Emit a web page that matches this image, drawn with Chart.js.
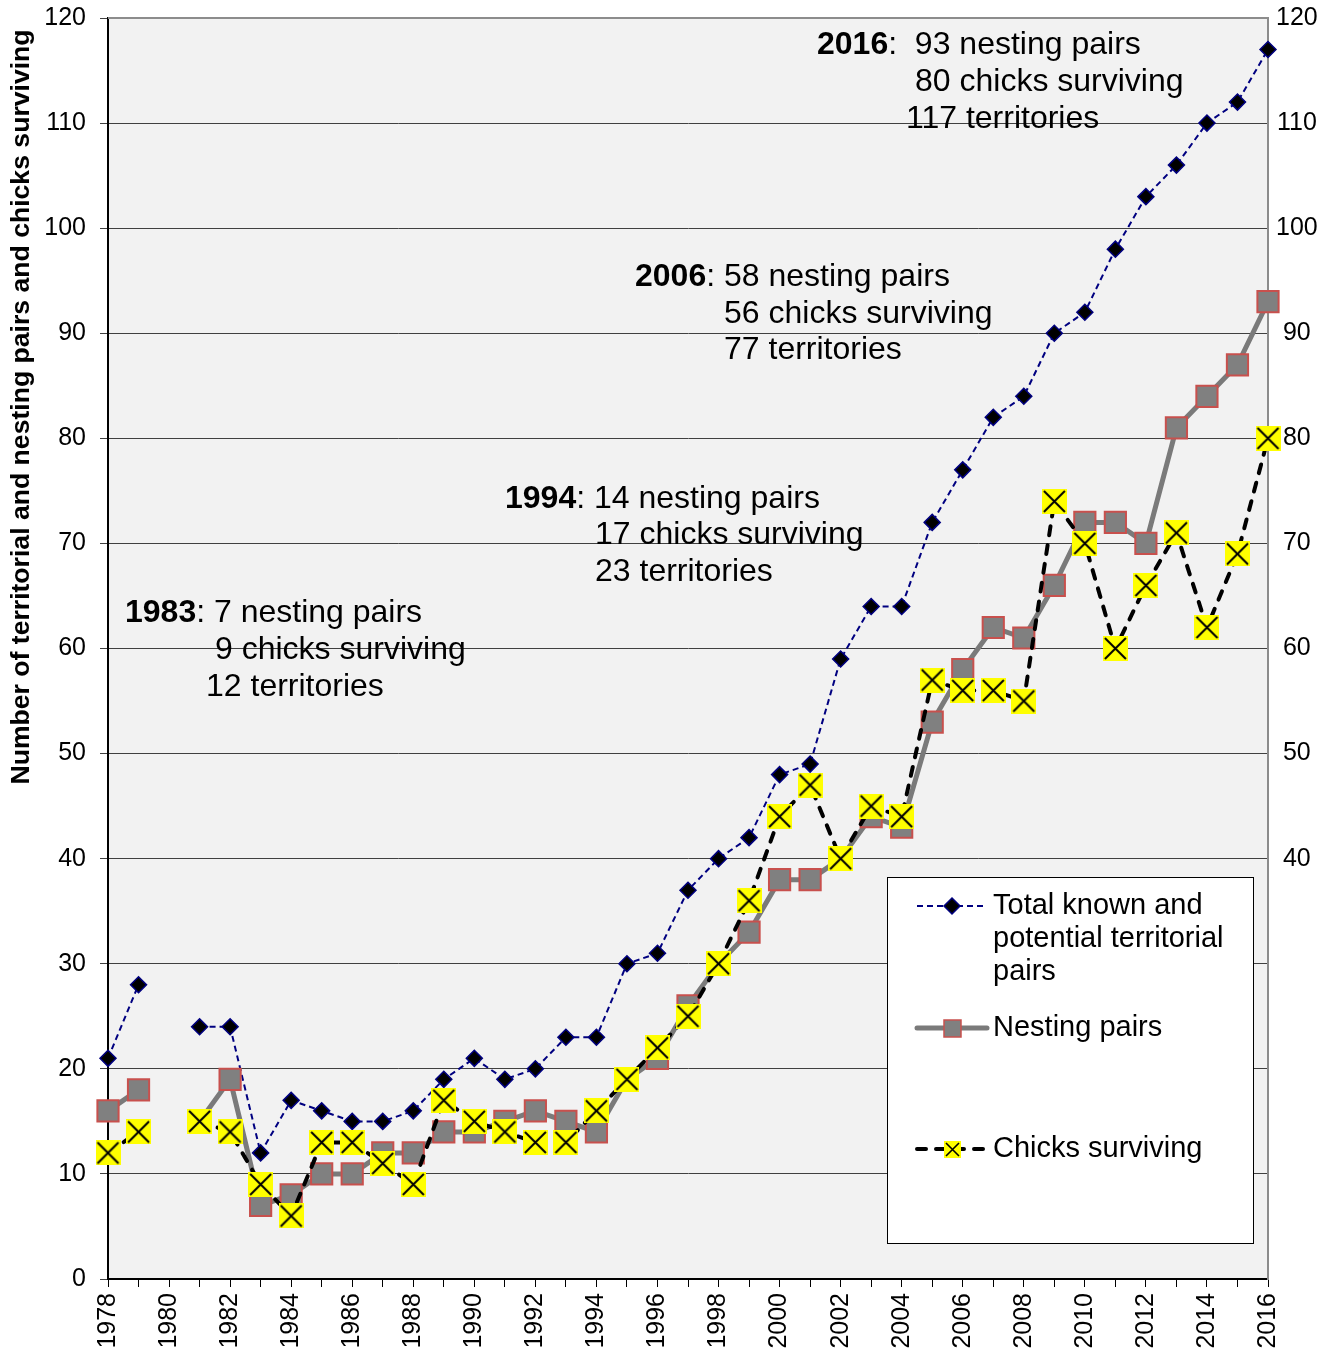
<!DOCTYPE html>
<html>
<head>
<meta charset="utf-8">
<title>Territorial pairs, nesting pairs and chicks surviving 1978-2016</title>
<script src="https://cdn.jsdelivr.net/npm/chart.js@4.4.1/dist/chart.umd.min.js"></script>
<style>
html, body { margin: 0; padding: 0; background: #fff; }
#wrap { width: 1333px; height: 1359px; }
</style>
</head>
<body>
<div id="wrap"><canvas id="pairsChart" width="1333" height="1359"></canvas></div>
<script>
// values, one per year (null = no survey)
var years = [1978, 1979, 1980, 1981, 1982, 1983, 1984, 1985, 1986, 1987,
             1988, 1989, 1990, 1991, 1992, 1993, 1994, 1995, 1996, 1997,
             1998, 1999, 2000, 2001, 2002, 2003, 2004, 2005, 2006, 2007,
             2008, 2009, 2010, 2011, 2012, 2013, 2014, 2015, 2016];

var territories = [21, 28, null, 24, 24, 12, 17, 16, 15, 15,
                   16, 19, 21, 19, 20, 23, 23, 30, 31, 37,
                   40, 42, 48, 49, 59, 64, 64, 72, 77, 82,
                   84, 90, 92, 98, 103, 106, 110, 112, 117];

var nestingPairs = [16, 18, null, 15, 19, 7, 8, 10, 10, 12,
                    12, 14, 14, 15, 16, 15, 14, 19, 21, 26,
                    30, 33, 38, 38, 40, 44, 43, 53, 58, 62,
                    61, 66, 72, 72, 70, 81, 84, 87, 93];

var chicksSurviving = [12, 14, null, 15, 14, 9, 6, 13, 13, 11,
                       9, 17, 15, 14, 13, 13, 16, 19, 22, 25,
                       30, 36, 44, 47, 40, 45, 44, 57, 56, 56,
                       55, 74, 70, 60, 66, 71, 62, 69, 80];

var seriesNames = ['Total known and potential territorial pairs', 'Nesting pairs', 'Chicks surviving'];
var legendLines = [['Total known and', 'potential territorial', 'pairs'], ['Nesting pairs'], ['Chicks surviving']];
var yTitle = 'Number of territorial and nesting pairs and chicks surviving';

var fontFamily = "'Liberation Sans', Arial, sans-serif";

function toPoints(values) {
    return years.map(function (yr, i) {
        return { x: yr, y: values[i] };
    });
}

// yellow box with a black cross, used as the chick marker
function crossBox(size, lw) {
    var c = document.createElement('canvas');
    c.width = size;
    c.height = size;
    var g = c.getContext('2d');
    g.fillStyle = '#ffff00';
    g.fillRect(0, 0, size, size);
    g.strokeStyle = '#000';
    g.lineWidth = lw;
    g.beginPath();
    g.moveTo(2, 2); g.lineTo(size - 2, size - 2);
    g.moveTo(size - 2, 2); g.lineTo(2, size - 2);
    g.stroke();
    return c;
}

var chickMarker = crossBox(25, 2);
var chickLegendMarker = crossBox(17, 1.6);

// text blocks written on the plot
var notes = [
    { x: 125, y: 622, bold: '1983', text: ': 7 nesting pairs' },
    { x: 215, y: 659, bold: '', text: '9 chicks surviving' },
    { x: 206, y: 696, bold: '', text: '12 territories' },
    { x: 505, y: 508, bold: '1994', text: ': 14 nesting pairs' },
    { x: 595, y: 544, bold: '', text: '17 chicks surviving' },
    { x: 595, y: 581, bold: '', text: '23 territories' },
    { x: 635, y: 286, bold: '2006', text: ': 58 nesting pairs' },
    { x: 724, y: 323, bold: '', text: '56 chicks surviving' },
    { x: 724, y: 359, bold: '', text: '77 territories' },
    { x: 817, y: 54, bold: '2016', text: ':  93 nesting pairs' },
    { x: 915, y: 91, bold: '', text: '80 chicks surviving' },
    { x: 906, y: 128, bold: '', text: '117 territories' }
];

// keep the plot top where the original has it
function noLabelPadding(scale) {
    scale.paddingTop = 0;
    scale.paddingBottom = 0;
}

var framePlugin = {
    id: 'frame',
    beforeDraw: function (chart) {
        var ctx = chart.ctx, a = chart.chartArea;
        ctx.save();
        ctx.fillStyle = '#ffffff';
        ctx.fillRect(0, 0, chart.width, chart.height);
        ctx.fillStyle = '#f2f2f2';
        ctx.fillRect(a.left, a.top, a.right - a.left, a.bottom - a.top);
        ctx.restore();
    },
    beforeDatasetsDraw: function (chart) {
        var ctx = chart.ctx, a = chart.chartArea;
        ctx.save();
        ctx.strokeStyle = '#8c8c8c';
        ctx.lineWidth = 2;
        ctx.beginPath();
        ctx.moveTo(a.left, a.top);
        ctx.lineTo(a.right, a.top);
        ctx.stroke();
        ctx.restore();
    },
    afterDraw: function (chart) {
        var ctx = chart.ctx;
        ctx.save();

        // y axis title, placed like the original (above the middle)
        ctx.translate(22, 407);
        ctx.rotate(-Math.PI / 2);
        ctx.font = 'bold 26.6px ' + fontFamily;
        ctx.fillStyle = '#000';
        ctx.textAlign = 'center';
        ctx.textBaseline = 'middle';
        ctx.fillText(yTitle, 0, 0);
        ctx.setTransform(1, 0, 0, 1, 0, 0);

        // notes
        ctx.textAlign = 'left';
        ctx.textBaseline = 'alphabetic';
        notes.forEach(function (n) {
            var x = n.x;
            if (n.bold) {
                ctx.font = 'bold 32px ' + fontFamily;
                ctx.fillText(n.bold, x, n.y);
                x += ctx.measureText(n.bold).width;
            }
            ctx.font = '32px ' + fontFamily;
            ctx.fillText(n.text, x, n.y);
        });

        // legend box
        var bx = 887, by = 877, bw = 366, bh = 366;
        ctx.fillStyle = '#ffffff';
        ctx.fillRect(bx, by, bw, bh);
        ctx.strokeStyle = '#000';
        ctx.lineWidth = 1;
        ctx.strokeRect(bx + 0.5, by + 0.5, bw, bh);

        var rows = [906, 1028, 1149];
        var ds = chart.data.datasets;
        rows.forEach(function (ry, i) {
            var d = ds[i];
            ctx.save();
            ctx.strokeStyle = d.borderColor;
            ctx.lineWidth = d.borderWidth;
            ctx.lineCap = d.borderCapStyle || 'butt';
            ctx.setLineDash(d.borderDash || []);
            ctx.beginPath();
            ctx.moveTo(917, ry);
            ctx.lineTo(987, ry);
            ctx.stroke();
            ctx.restore();

            if (i === 0) {
                ctx.beginPath();
                ctx.moveTo(952, ry - 8);
                ctx.lineTo(960, ry);
                ctx.lineTo(952, ry + 8);
                ctx.lineTo(944, ry);
                ctx.closePath();
                ctx.fillStyle = d.pointBackgroundColor;
                ctx.fill();
                ctx.strokeStyle = d.pointBorderColor;
                ctx.lineWidth = 1.5;
                ctx.stroke();
            } else if (i === 1) {
                ctx.fillStyle = d.pointBackgroundColor;
                ctx.fillRect(944, ry - 8, 17, 17);
                ctx.strokeStyle = d.pointBorderColor;
                ctx.lineWidth = 1.5;
                ctx.strokeRect(944, ry - 8, 17, 17);
            } else {
                ctx.drawImage(chickLegendMarker, 944, ry - 8);
            }

            ctx.fillStyle = '#000';
            ctx.font = '29px ' + fontFamily;
            ctx.textBaseline = 'middle';
            legendLines[i].forEach(function (line, k) {
                ctx.fillText(line, 993, ry + k * 33);
            });
        });
        ctx.restore();
    }
};

var pairsChart = new Chart(document.getElementById('pairsChart'), {
    type: 'line',
    data: {
        datasets: [
            {
                label: seriesNames[0],
                data: toPoints(territories),
                borderColor: '#000080',
                borderWidth: 2,
                borderDash: [6, 4],
                pointStyle: 'rectRot',
                pointRadius: 8,
                pointBackgroundColor: '#000000',
                pointBorderColor: '#000080',
                pointBorderWidth: 1.5,
                tension: 0,
                spanGaps: false,
                clip: false,
                order: 3
            },
            {
                label: seriesNames[1],
                data: toPoints(nestingPairs),
                borderColor: '#7a7a7a',
                borderWidth: 5,
                borderCapStyle: 'round',
                pointStyle: 'rect',
                pointRadius: 15,
                pointBackgroundColor: '#808080',
                pointBorderColor: '#c8504d',
                pointBorderWidth: 2,
                tension: 0,
                spanGaps: false,
                clip: false,
                order: 2
            },
            {
                label: seriesNames[2],
                data: toPoints(chicksSurviving),
                borderColor: '#000000',
                borderWidth: 4,
                borderDash: [9, 10],
                borderCapStyle: 'round',
                pointStyle: chickMarker,
                pointRadius: 12,
                tension: 0,
                spanGaps: false,
                clip: false,
                order: 1
            }
        ]
    },
    options: {
        responsive: false,
        animation: false,
        layout: { padding: { top: 18, left: 0, right: 0, bottom: 0 } },
        plugins: {
            legend: { display: false },
            tooltip: { enabled: false }
        },
        scales: {
            x: {
                type: 'linear',
                min: 1978,
                max: 2016,
                offset: false,
                afterFit: function (scale) {
                    scale.height = 80;
                    scale.paddingLeft = 0;
                    scale.paddingRight = 0;
                },
                grid: { drawOnChartArea: false, tickLength: 8, color: '#000' },
                border: { color: '#000', width: 2 },
                ticks: {
                    stepSize: 1,
                    autoSkip: false,
                    minRotation: 90,
                    maxRotation: 90,
                    padding: 6,
                    color: '#000',
                    font: { family: fontFamily, size: 25 },
                    callback: function (v) { return v % 2 === 0 ? String(v) : ''; }
                }
            },
            y: {
                position: 'left',
                min: 0,
                max: 120,
                afterFit: function (scale) {
                    scale.width = 108;
                    noLabelPadding(scale);
                },
                grid: { color: '#404040', lineWidth: 1, tickLength: 8 },
                border: { color: '#000', width: 2 },
                ticks: {
                    stepSize: 10,
                    padding: 14,
                    color: '#000',
                    font: { family: fontFamily, size: 25 }
                }
            },
            y2: {
                position: 'right',
                min: 0,
                max: 120,
                afterFit: function (scale) {
                    scale.width = 65;
                    noLabelPadding(scale);
                },
                grid: { drawOnChartArea: false, drawTicks: false },
                border: { color: '#8c8c8c', width: 2 },
                ticks: {
                    stepSize: 10,
                    padding: 8,
                    crossAlign: 'center',
                    color: '#000',
                    font: { family: fontFamily, size: 25 },
                    callback: function (v) { return v >= 40 ? String(v) : ''; }
                }
            }
        }
    },
    plugins: [framePlugin]
});
</script>
</body>
</html>
